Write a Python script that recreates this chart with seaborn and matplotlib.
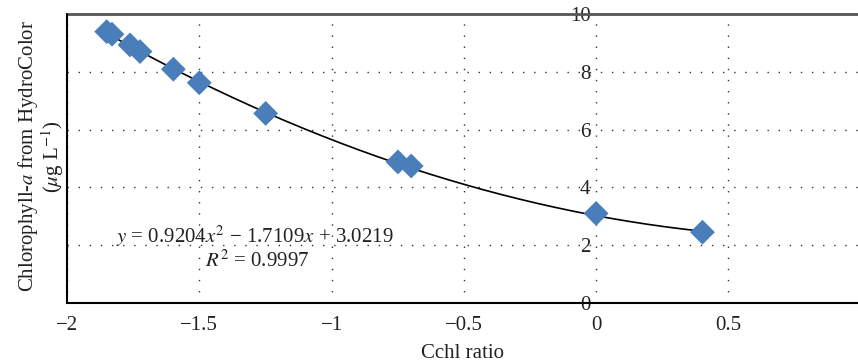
import numpy as np
import pandas as pd
import matplotlib
matplotlib.use("Agg")
import matplotlib.pyplot as plt
import seaborn as sns

# Data
cchl_ratio = [-1.85, -1.83, -1.762, -1.724, -1.598, -1.50, -1.249, -0.749, -0.699, 0.0, 0.402]
chl_a = [9.39, 9.30, 8.93, 8.70, 8.09, 7.62, 6.56, 4.88, 4.74, 3.10, 2.45]
fit_coef = [0.9204, -1.7109, 3.0219]
x_ticks = [-2, -1.5, -1, -0.5, 0, 0.5]
x_tick_labels = ["\u22122", "\u22121.5", "\u22121", "\u22120.5", "0", "0.5"]
y_ticks = [0, 2, 4, 6, 8, 10]

sns.set_style("white")
plt.rcParams["font.family"] = ["Liberation Serif", "DejaVu Serif"]
plt.rcParams["mathtext.fontset"] = "stix"

FS = 15
fig = plt.figure(figsize=(8.58, 3.64), dpi=100)
ax = fig.add_axes([67 / 858, 61 / 364, 1 - 67 / 858, 289 / 364])

df = pd.DataFrame({"x": cchl_ratio, "y": chl_a})
xs = np.linspace(min(cchl_ratio), max(cchl_ratio), 200)
ys = np.polyval(fit_coef, xs)
sns.lineplot(x=xs, y=ys, ax=ax, color="black", lw=1.2, zorder=2)
sns.scatterplot(data=df, x="x", y="y", ax=ax, marker="D", s=160,
                color="#4A7EBB", edgecolor="none", zorder=3)

ax.set_xlim(-2, 0.99)
ax.set_ylim(0, 10)
ax.set_xticks(x_ticks)
ax.set_xticklabels(x_tick_labels)
ax.set_yticks(y_ticks)

ax.grid(True, color="#333333", linestyle=(0, (1, 7)), linewidth=1.0)
ax.set_axisbelow(True)

ax.spines["left"].set_position(("data", 0))
ax.spines["left"].set_visible(False)
ax.spines["right"].set_visible(False)
ax.spines["top"].set_color("#555555")
ax.spines["top"].set_linewidth(2.0)
ax.spines["bottom"].set_color("black")
ax.spines["bottom"].set_linewidth(1.5)
ax.axvline(-2, color="black", lw=1.5, clip_on=False, zorder=4)

ax.tick_params(axis="x", direction="inout", length=8, width=1.2, labelsize=FS, pad=5, colors="#222222")
ax.tick_params(axis="y", length=0, labelsize=FS, pad=4, colors="#222222")

ax.set_xlabel("Cchl ratio", fontsize=FS, labelpad=7, color="#222222")
ax.set_ylabel("")
fig.text(0.048, 0.57, "Chlorophyll-$a$ from HydroColor\n($\\mu$g L$^{-1}$)", rotation=90,
         ha="center", va="center", fontsize=FS, color="#222222", linespacing=0.95)

ax.text(-1.29, 2.3, "$y$ = 0.9204$x^2$ \u2212 1.7109$x$ + 3.0219", ha="center",
        va="center", fontsize=FS, color="#222222")
ax.text(-1.28, 1.45, "$R^2$ = 0.9997", ha="center", va="center", fontsize=FS, color="#222222")

fig.savefig("out.png", dpi=100)
